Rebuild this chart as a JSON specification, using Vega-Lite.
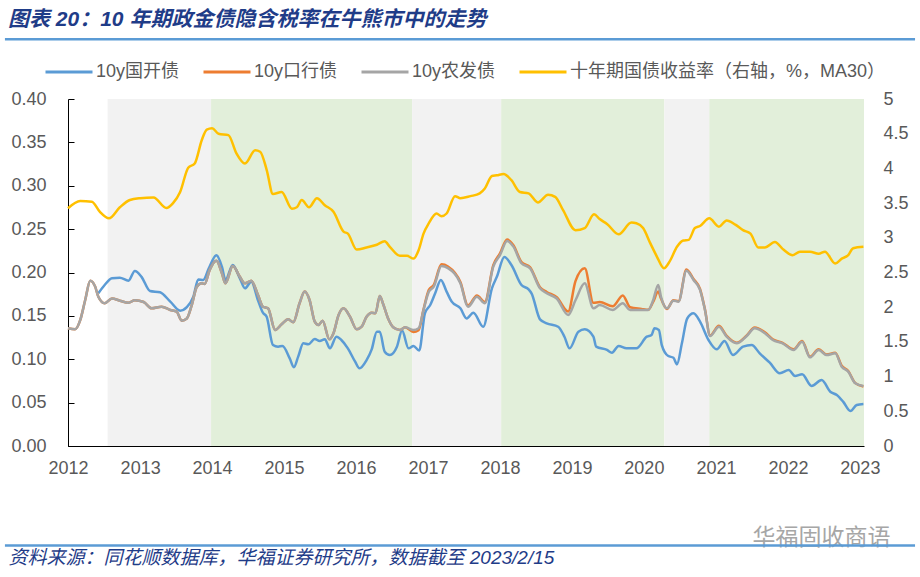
{
  "$schema": "https://vega.github.io/schema/vega-lite/v6.json",
  "background": "white",
  "width": 796,
  "height": 347,
  "autosize": {"type": "none"},
  "padding": {"left": 68, "right": 56, "top": 99, "bottom": 131},
  "config": {
    "font": "Liberation Sans, Noto Sans CJK SC",
    "view": {"stroke": null}
  },
  "title": {
    "text": "图表 20：10 年期政金债隐含税率在牛熊市中的走势",
    "anchor": "start", "frame": "group", "dx": -60, "offset": 8,
    "fontSize": 21, "fontWeight": "bold", "fontStyle": "italic",
    "color": "#1F3C88", "font": "Liberation Sans, Noto Sans CJK SC"
  },
  "datasets": {
    "phases": [
      {"start": "2012-07-20", "end": "2013-12-27", "phase": "熊市"},
      {"start": "2013-12-27", "end": "2016-10-12", "phase": "牛市"},
      {"start": "2016-10-12", "end": "2018-01-07", "phase": "熊市"},
      {"start": "2018-01-07", "end": "2020-04-14", "phase": "牛市"},
      {"start": "2020-04-14", "end": "2020-11-28", "phase": "熊市"},
      {"start": "2020-11-28", "end": "2023-01-22", "phase": "牛市"}
    ],
    "bonds": [
      {"d":"2012-06-03","s":"10y国开债","v":0.176},{"d":"2012-07-05","s":"10y国开债","v":0.1856},{"d":"2012-08-11","s":"10y国开债","v":0.1933},{"d":"2012-09-20","s":"10y国开债","v":0.194},{"d":"2012-11-03","s":"10y国开债","v":0.1906},{"d":"2012-12-05","s":"10y国开债","v":0.2017},{"d":"2013-01-08","s":"10y国开债","v":0.195},{"d":"2013-02-20","s":"10y国开债","v":0.1787},{"d":"2013-04-12","s":"10y国开债","v":0.1772},{"d":"2013-06-03","s":"10y国开债","v":0.1664},{"d":"2013-07-23","s":"10y国开债","v":0.156},{"d":"2013-08-26","s":"10y国开债","v":0.160},{"d":"2013-09-28","s":"10y国开债","v":0.172},{"d":"2013-10-23","s":"10y国开债","v":0.192},{"d":"2013-11-17","s":"10y国开债","v":0.1914},{"d":"2013-12-16","s":"10y国开债","v":0.205},{"d":"2014-01-23","s":"10y国开债","v":0.220},{"d":"2014-02-20","s":"10y国开债","v":0.2067},{"d":"2014-03-10","s":"10y国开债","v":0.1914},{"d":"2014-04-16","s":"10y国开债","v":0.2087},{"d":"2014-05-22","s":"10y国开债","v":0.1933},{"d":"2014-06-17","s":"10y国开债","v":0.1818},{"d":"2014-07-19","s":"10y国开债","v":0.1894},{"d":"2014-08-22","s":"10y国开债","v":0.168},{"d":"2014-09-16","s":"10y国开债","v":0.1537},{"d":"2014-10-05","s":"10y国开债","v":0.149},{"d":"2014-11-06","s":"10y国开债","v":0.1164},{"d":"2014-12-02","s":"10y国开债","v":0.1145},{"d":"2014-12-24","s":"10y国开债","v":0.1153},{"d":"2015-01-30","s":"10y国开债","v":0.101},{"d":"2015-02-20","s":"10y国开债","v":0.0907},{"d":"2015-03-14","s":"10y国开债","v":0.103},{"d":"2015-04-09","s":"10y国开债","v":0.1184},{"d":"2015-05-04","s":"10y国开债","v":0.1172},{"d":"2015-06-06","s":"10y国开债","v":0.1233},{"d":"2015-07-01","s":"10y国开债","v":0.121},{"d":"2015-07-27","s":"10y国开债","v":0.123},{"d":"2015-08-22","s":"10y国开债","v":0.1126},{"d":"2015-09-24","s":"10y国开债","v":0.126},{"d":"2015-10-19","s":"10y国开债","v":0.1222},{"d":"2015-11-21","s":"10y国开债","v":0.1126},{"d":"2015-12-28","s":"10y国开债","v":0.0972},{"d":"2016-01-19","s":"10y国开债","v":0.0895},{"d":"2016-02-24","s":"10y国开债","v":0.099},{"d":"2016-03-21","s":"10y国开债","v":0.1114},{"d":"2016-04-16","s":"10y国开债","v":0.1318},{"d":"2016-05-01","s":"10y国开债","v":0.1318},{"d":"2016-05-26","s":"10y国开债","v":0.1087},{"d":"2016-06-21","s":"10y国开债","v":0.1049},{"d":"2016-07-27","s":"10y国开债","v":0.1145},{"d":"2016-08-22","s":"10y国开债","v":0.133},{"d":"2016-09-24","s":"10y国开债","v":0.1126},{"d":"2016-10-19","s":"10y国开债","v":0.1153},{"d":"2016-11-17","s":"10y国开债","v":0.110},{"d":"2016-12-16","s":"10y国开债","v":0.153},{"d":"2017-01-12","s":"10y国开债","v":0.1625},{"d":"2017-02-06","s":"10y国开债","v":0.176},{"d":"2017-03-07","s":"10y国开债","v":0.1914},{"d":"2017-04-05","s":"10y国开债","v":0.178},{"d":"2017-05-01","s":"10y国开债","v":0.1664},{"d":"2017-06-14","s":"10y国开债","v":0.1587},{"d":"2017-07-16","s":"10y国开债","v":0.147},{"d":"2017-08-19","s":"10y国开债","v":0.1537},{"d":"2017-10-08","s":"10y国开债","v":0.1375},{"d":"2017-11-21","s":"10y国开债","v":0.1818},{"d":"2017-12-16","s":"10y国开债","v":0.195},{"d":"2018-01-23","s":"10y国开债","v":0.218},{"d":"2018-02-28","s":"10y国开债","v":0.2087},{"d":"2018-04-20","s":"10y国开债","v":0.1856},{"d":"2018-05-26","s":"10y国开债","v":0.1806},{"d":"2018-06-10","s":"10y国开债","v":0.176},{"d":"2018-07-23","s":"10y国开债","v":0.146},{"d":"2018-08-26","s":"10y国开债","v":0.1414},{"d":"2018-10-23","s":"10y国开债","v":0.1375},{"d":"2018-11-24","s":"10y国开债","v":0.126},{"d":"2018-12-20","s":"10y国开债","v":0.1126},{"d":"2019-02-03","s":"10y国开债","v":0.1318},{"d":"2019-03-07","s":"10y国开债","v":0.1345},{"d":"2019-04-20","s":"10y国开债","v":0.126},{"d":"2019-05-04","s":"10y国开债","v":0.1145},{"d":"2019-06-28","s":"10y国开债","v":0.1107},{"d":"2019-07-23","s":"10y国开债","v":0.1076},{"d":"2019-08-26","s":"10y国开债","v":0.1153},{"d":"2019-10-05","s":"10y国开债","v":0.1126},{"d":"2019-11-24","s":"10y国开债","v":0.1126},{"d":"2020-01-16","s":"10y国开债","v":0.126},{"d":"2020-02-09","s":"10y国开债","v":0.128},{"d":"2020-02-24","s":"10y国开债","v":0.1357},{"d":"2020-03-17","s":"10y国开债","v":0.1337},{"d":"2020-04-01","s":"10y国开债","v":0.1164},{"d":"2020-05-04","s":"10y国开债","v":0.1037},{"d":"2020-05-30","s":"10y国开债","v":0.1018},{"d":"2020-06-17","s":"10y国开债","v":0.0942},{"d":"2020-07-12","s":"10y国开债","v":0.1184},{"d":"2020-08-08","s":"10y国开债","v":0.147},{"d":"2020-09-09","s":"10y国开债","v":0.153},{"d":"2020-10-12","s":"10y国开债","v":0.1433},{"d":"2020-11-24","s":"10y国开债","v":0.1222},{"d":"2021-01-05","s":"10y国开债","v":0.1114},{"d":"2021-02-13","s":"10y国开债","v":0.121},{"d":"2021-03-28","s":"10y国开债","v":0.1049},{"d":"2021-05-18","s":"10y国开债","v":0.1145},{"d":"2021-07-01","s":"10y国开债","v":0.1164},{"d":"2021-08-11","s":"10y国开债","v":0.1068},{"d":"2021-10-01","s":"10y国开债","v":0.096},{"d":"2021-11-21","s":"10y国开债","v":0.0838},{"d":"2022-01-05","s":"10y国开债","v":0.0876},{"d":"2022-02-06","s":"10y国开债","v":0.0807},{"d":"2022-03-14","s":"10y国开债","v":0.0826},{"d":"2022-05-01","s":"10y国开债","v":0.0692},{"d":"2022-06-21","s":"10y国开债","v":0.0761},{"d":"2022-08-04","s":"10y国开债","v":0.0626},{"d":"2022-09-06","s":"10y国开债","v":0.0588},{"d":"2022-10-08","s":"10y国开债","v":0.0511},{"d":"2022-11-14","s":"10y国开债","v":0.0403},{"d":"2022-12-16","s":"10y国开债","v":0.0473},{"d":"2023-01-19","s":"10y国开债","v":0.0484},

      {"d":"2012-01-01","s":"10y口行债","v":0.1357},{"d":"2012-02-06","s":"10y口行债","v":0.1345},{"d":"2012-03-03","s":"10y口行债","v":0.145},{"d":"2012-03-28","s":"10y口行债","v":0.168},{"d":"2012-04-23","s":"10y口行债","v":0.1906},{"d":"2012-05-18","s":"10y口行债","v":0.1837},{"d":"2012-06-03","s":"10y口行债","v":0.172},{"d":"2012-07-05","s":"10y口行债","v":0.1645},{"d":"2012-08-11","s":"10y口行债","v":0.170},{"d":"2012-09-20","s":"10y口行债","v":0.1675},{"d":"2012-11-03","s":"10y口行债","v":0.165},{"d":"2012-12-05","s":"10y口行债","v":0.168},{"d":"2013-01-19","s":"10y口行债","v":0.166},{"d":"2013-02-28","s":"10y口行债","v":0.1587},{"d":"2013-04-20","s":"10y口行债","v":0.1606},{"d":"2013-06-03","s":"10y口行债","v":0.1568},{"d":"2013-07-05","s":"10y口行债","v":0.155},{"d":"2013-07-31","s":"10y口行债","v":0.1445},{"d":"2013-08-26","s":"10y口行债","v":0.147},{"d":"2013-09-20","s":"10y口行债","v":0.1625},{"d":"2013-10-16","s":"10y口行债","v":0.1837},{"d":"2013-11-10","s":"10y口行债","v":0.1875},{"d":"2013-11-24","s":"10y口行债","v":0.1867},{"d":"2013-12-20","s":"10y口行债","v":0.203},{"d":"2014-01-23","s":"10y口行债","v":0.2136},{"d":"2014-02-20","s":"10y口行债","v":0.199},{"d":"2014-03-10","s":"10y口行债","v":0.1875},{"d":"2014-04-16","s":"10y口行债","v":0.2075},{"d":"2014-05-22","s":"10y口行债","v":0.195},{"d":"2014-06-17","s":"10y口行债","v":0.1875},{"d":"2014-07-19","s":"10y口行债","v":0.1906},{"d":"2014-08-22","s":"10y口行债","v":0.174},{"d":"2014-09-16","s":"10y口行债","v":0.1606},{"d":"2014-10-12","s":"10y口行债","v":0.1587},{"d":"2014-11-17","s":"10y口行债","v":0.1337},{"d":"2014-12-20","s":"10y口行债","v":0.1403},{"d":"2015-01-23","s":"10y口行债","v":0.146},{"d":"2015-02-17","s":"10y口行债","v":0.1426},{"d":"2015-03-21","s":"10y口行债","v":0.1645},{"d":"2015-04-16","s":"10y口行债","v":0.178},{"d":"2015-05-11","s":"10y口行债","v":0.168},{"d":"2015-06-06","s":"10y口行债","v":0.1433},{"d":"2015-06-25","s":"10y口行债","v":0.1395},{"d":"2015-07-16","s":"10y口行债","v":0.1445},{"d":"2015-08-19","s":"10y口行债","v":0.123},{"d":"2015-09-09","s":"10y口行债","v":0.130},{"d":"2015-10-05","s":"10y口行债","v":0.151},{"d":"2015-10-30","s":"10y口行债","v":0.1587},{"d":"2015-12-02","s":"10y口行债","v":0.149},{"d":"2016-01-05","s":"10y口行债","v":0.1345},{"d":"2016-01-30","s":"10y口行债","v":0.1375},{"d":"2016-02-24","s":"10y口行债","v":0.149},{"d":"2016-03-21","s":"10y口行债","v":0.1537},{"d":"2016-04-09","s":"10y口行债","v":0.153},{"d":"2016-05-01","s":"10y口行债","v":0.173},{"d":"2016-05-18","s":"10y口行债","v":0.1637},{"d":"2016-06-14","s":"10y口行债","v":0.146},{"d":"2016-07-08","s":"10y口行债","v":0.1368},{"d":"2016-08-11","s":"10y口行债","v":0.1337},{"d":"2016-09-06","s":"10y口行债","v":0.1368},{"d":"2016-10-19","s":"10y口行债","v":0.1315},{"d":"2016-11-14","s":"10y口行债","v":0.1335},{"d":"2016-12-09","s":"10y口行债","v":0.1575},{"d":"2017-01-05","s":"10y口行债","v":0.180},{"d":"2017-01-30","s":"10y口行债","v":0.1857},{"d":"2017-03-10","s":"10y口行债","v":0.2095},{"d":"2017-04-12","s":"10y口行债","v":0.207},{"d":"2017-06-14","s":"10y口行债","v":0.189},{"d":"2017-07-23","s":"10y口行债","v":0.162},{"d":"2017-09-06","s":"10y口行债","v":0.1735},{"d":"2017-10-16","s":"10y口行债","v":0.166},{"d":"2017-11-28","s":"10y口行债","v":0.2085},{"d":"2018-01-01","s":"10y口行债","v":0.222},{"d":"2018-02-06","s":"10y口行债","v":0.238},{"d":"2018-03-10","s":"10y口行债","v":0.2315},{"d":"2018-04-20","s":"10y口行债","v":0.212},{"d":"2018-06-03","s":"10y口行债","v":0.206},{"d":"2018-07-23","s":"10y口行债","v":0.183},{"d":"2018-08-26","s":"10y口行债","v":0.1775},{"d":"2018-10-16","s":"10y口行债","v":0.1715},{"d":"2018-12-13","s":"10y口行债","v":0.155},{"d":"2019-01-19","s":"10y口行债","v":0.190},{"d":"2019-03-07","s":"10y口行债","v":0.2048},{"d":"2019-04-20","s":"10y口行债","v":0.165},{"d":"2019-05-22","s":"10y口行债","v":0.166},{"d":"2019-07-27","s":"10y口行债","v":0.161},{"d":"2019-09-16","s":"10y口行债","v":0.1735},{"d":"2019-10-23","s":"10y口行债","v":0.160},{"d":"2019-12-20","s":"10y口行债","v":0.158},{"d":"2020-01-23","s":"10y口行债","v":0.157},{"d":"2020-02-17","s":"10y口行债","v":0.166},{"d":"2020-03-14","s":"10y口行债","v":0.178},{"d":"2020-03-28","s":"10y口行债","v":0.170},{"d":"2020-04-27","s":"10y口行债","v":0.158},{"d":"2020-05-30","s":"10y口行债","v":0.168},{"d":"2020-06-25","s":"10y口行债","v":0.167},{"d":"2020-08-04","s":"10y口行债","v":0.2035},{"d":"2020-09-09","s":"10y口行债","v":0.1925},{"d":"2020-10-12","s":"10y口行债","v":0.181},{"d":"2020-11-06","s":"10y口行债","v":0.1575},{"d":"2020-12-02","s":"10y口行债","v":0.1275},{"d":"2021-01-16","s":"10y口行债","v":0.1385},{"d":"2021-02-24","s":"10y口行债","v":0.127},{"d":"2021-04-16","s":"10y口行债","v":0.119},{"d":"2021-06-06","s":"10y口行债","v":0.1275},{"d":"2021-07-16","s":"10y口行债","v":0.1365},{"d":"2021-09-06","s":"10y口行债","v":0.131},{"d":"2021-10-16","s":"10y口行债","v":0.123},{"d":"2021-12-05","s":"10y口行债","v":0.119},{"d":"2022-01-30","s":"10y口行债","v":0.1115},{"d":"2022-03-14","s":"10y口行债","v":0.121},{"d":"2022-04-23","s":"10y口行债","v":0.103},{"d":"2022-06-06","s":"10y口行债","v":0.1115},{"d":"2022-07-16","s":"10y口行债","v":0.1055},{"d":"2022-08-29","s":"10y口行债","v":0.1075},{"d":"2022-10-01","s":"10y口行债","v":0.0925},{"d":"2022-11-03","s":"10y口行债","v":0.0865},{"d":"2022-12-09","s":"10y口行债","v":0.0725},{"d":"2023-01-19","s":"10y口行债","v":0.0685},

      {"d":"2012-01-01","s":"10y农发债","v":0.1357},{"d":"2012-02-06","s":"10y农发债","v":0.1345},{"d":"2012-03-03","s":"10y农发债","v":0.145},{"d":"2012-03-28","s":"10y农发债","v":0.168},{"d":"2012-04-23","s":"10y农发债","v":0.1906},{"d":"2012-05-18","s":"10y农发债","v":0.1837},{"d":"2012-06-03","s":"10y农发债","v":0.172},{"d":"2012-07-05","s":"10y农发债","v":0.1645},{"d":"2012-08-11","s":"10y农发债","v":0.170},{"d":"2012-09-20","s":"10y农发债","v":0.1675},{"d":"2012-11-03","s":"10y农发债","v":0.165},{"d":"2012-12-05","s":"10y农发债","v":0.168},{"d":"2013-01-19","s":"10y农发债","v":0.166},{"d":"2013-02-28","s":"10y农发债","v":0.1587},{"d":"2013-04-20","s":"10y农发债","v":0.1606},{"d":"2013-06-03","s":"10y农发债","v":0.1568},{"d":"2013-07-05","s":"10y农发债","v":0.155},{"d":"2013-07-31","s":"10y农发债","v":0.1445},{"d":"2013-08-26","s":"10y农发债","v":0.147},{"d":"2013-09-20","s":"10y农发债","v":0.1625},{"d":"2013-10-16","s":"10y农发债","v":0.1837},{"d":"2013-11-10","s":"10y农发债","v":0.1875},{"d":"2013-11-24","s":"10y农发债","v":0.1867},{"d":"2013-12-20","s":"10y农发债","v":0.203},{"d":"2014-01-23","s":"10y农发债","v":0.2136},{"d":"2014-02-20","s":"10y农发债","v":0.199},{"d":"2014-03-10","s":"10y农发债","v":0.1875},{"d":"2014-04-16","s":"10y农发债","v":0.2075},{"d":"2014-05-22","s":"10y农发债","v":0.195},{"d":"2014-06-17","s":"10y农发债","v":0.1875},{"d":"2014-07-19","s":"10y农发债","v":0.1906},{"d":"2014-08-22","s":"10y农发债","v":0.174},{"d":"2014-09-16","s":"10y农发债","v":0.1606},{"d":"2014-10-12","s":"10y农发债","v":0.1587},{"d":"2014-11-17","s":"10y农发债","v":0.1337},{"d":"2014-12-20","s":"10y农发债","v":0.1403},{"d":"2015-01-23","s":"10y农发债","v":0.146},{"d":"2015-02-17","s":"10y农发债","v":0.1426},{"d":"2015-03-21","s":"10y农发债","v":0.1645},{"d":"2015-04-16","s":"10y农发债","v":0.178},{"d":"2015-05-11","s":"10y农发债","v":0.168},{"d":"2015-06-06","s":"10y农发债","v":0.1433},{"d":"2015-06-25","s":"10y农发债","v":0.1395},{"d":"2015-07-16","s":"10y农发债","v":0.1445},{"d":"2015-08-19","s":"10y农发债","v":0.123},{"d":"2015-09-09","s":"10y农发债","v":0.130},{"d":"2015-10-05","s":"10y农发债","v":0.151},{"d":"2015-10-30","s":"10y农发债","v":0.1587},{"d":"2015-12-02","s":"10y农发债","v":0.149},{"d":"2016-01-05","s":"10y农发债","v":0.1345},{"d":"2016-01-30","s":"10y农发债","v":0.1375},{"d":"2016-02-24","s":"10y农发债","v":0.149},{"d":"2016-03-21","s":"10y农发债","v":0.1537},{"d":"2016-04-09","s":"10y农发债","v":0.153},{"d":"2016-05-01","s":"10y农发债","v":0.173},{"d":"2016-05-18","s":"10y农发债","v":0.1637},{"d":"2016-06-14","s":"10y农发债","v":0.146},{"d":"2016-07-08","s":"10y农发债","v":0.1368},{"d":"2016-08-11","s":"10y农发债","v":0.1337},{"d":"2016-09-06","s":"10y农发债","v":0.1368},{"d":"2016-10-19","s":"10y农发债","v":0.1337},{"d":"2016-11-14","s":"10y农发债","v":0.1357},{"d":"2016-12-09","s":"10y农发债","v":0.1568},{"d":"2017-01-05","s":"10y农发债","v":0.178},{"d":"2017-01-30","s":"10y农发债","v":0.1837},{"d":"2017-03-10","s":"10y农发债","v":0.2075},{"d":"2017-04-12","s":"10y农发债","v":0.205},{"d":"2017-06-14","s":"10y农发债","v":0.1875},{"d":"2017-07-23","s":"10y农发债","v":0.1606},{"d":"2017-09-06","s":"10y农发债","v":0.172},{"d":"2017-10-16","s":"10y农发债","v":0.1645},{"d":"2017-11-28","s":"10y农发债","v":0.2067},{"d":"2018-01-01","s":"10y农发债","v":0.220},{"d":"2018-02-06","s":"10y农发债","v":0.2363},{"d":"2018-03-10","s":"10y农发债","v":0.2298},{"d":"2018-04-20","s":"10y农发债","v":0.2106},{"d":"2018-06-03","s":"10y农发债","v":0.2048},{"d":"2018-07-23","s":"10y农发债","v":0.1818},{"d":"2018-08-26","s":"10y农发债","v":0.176},{"d":"2018-10-16","s":"10y农发债","v":0.170},{"d":"2018-12-13","s":"10y农发债","v":0.151},{"d":"2019-01-19","s":"10y农发债","v":0.168},{"d":"2019-03-07","s":"10y农发债","v":0.1875},{"d":"2019-04-20","s":"10y农发债","v":0.1587},{"d":"2019-05-22","s":"10y农发债","v":0.1625},{"d":"2019-07-27","s":"10y农发债","v":0.1568},{"d":"2019-09-16","s":"10y农发债","v":0.1645},{"d":"2019-10-23","s":"10y农发债","v":0.1568},{"d":"2019-12-20","s":"10y农发债","v":0.1568},{"d":"2020-01-23","s":"10y农发债","v":0.1568},{"d":"2020-02-17","s":"10y农发债","v":0.168},{"d":"2020-03-14","s":"10y农发债","v":0.1856},{"d":"2020-03-28","s":"10y农发债","v":0.172},{"d":"2020-04-27","s":"10y农发债","v":0.1587},{"d":"2020-05-30","s":"10y农发债","v":0.1675},{"d":"2020-06-25","s":"10y农发债","v":0.1664},{"d":"2020-08-04","s":"10y农发债","v":0.2021},{"d":"2020-09-09","s":"10y农发债","v":0.1914},{"d":"2020-10-12","s":"10y农发债","v":0.180},{"d":"2020-11-06","s":"10y农发债","v":0.1568},{"d":"2020-12-02","s":"10y农发债","v":0.1268},{"d":"2021-01-16","s":"10y农发债","v":0.1375},{"d":"2021-02-24","s":"10y农发债","v":0.126},{"d":"2021-04-16","s":"10y农发债","v":0.1184},{"d":"2021-06-06","s":"10y农发债","v":0.1268},{"d":"2021-07-16","s":"10y农发债","v":0.1357},{"d":"2021-09-06","s":"10y农发债","v":0.130},{"d":"2021-10-16","s":"10y农发债","v":0.1222},{"d":"2021-12-05","s":"10y农发债","v":0.1184},{"d":"2022-01-30","s":"10y农发债","v":0.1107},{"d":"2022-03-14","s":"10y农发债","v":0.1203},{"d":"2022-04-23","s":"10y农发债","v":0.1022},{"d":"2022-06-06","s":"10y农发债","v":0.1107},{"d":"2022-07-16","s":"10y农发债","v":0.1049},{"d":"2022-08-29","s":"10y农发债","v":0.1068},{"d":"2022-10-01","s":"10y农发债","v":0.0914},{"d":"2022-11-03","s":"10y农发债","v":0.0857},{"d":"2022-12-09","s":"10y农发债","v":0.0723},{"d":"2023-01-19","s":"10y农发债","v":0.0692}
    ],
    "gz": [
      {"d":"2012-01-01","r":3.425},{"d":"2012-03-03","r":3.53},{"d":"2012-05-01","r":3.52},{"d":"2012-06-10","r":3.376},{"d":"2012-07-27","r":3.28},{"d":"2012-09-20","r":3.44},{"d":"2012-11-10","r":3.545},{"d":"2013-01-01","r":3.57},{"d":"2013-03-10","r":3.58},{"d":"2013-05-14","r":3.43},{"d":"2013-06-17","r":3.50},{"d":"2013-07-23","r":3.66},{"d":"2013-09-02","r":4.01},{"d":"2013-10-05","r":4.07},{"d":"2013-11-10","r":4.41},{"d":"2013-12-05","r":4.56},{"d":"2014-01-01","r":4.58},{"d":"2014-02-03","r":4.50},{"d":"2014-03-25","r":4.48},{"d":"2014-05-04","r":4.22},{"d":"2014-06-17","r":4.07},{"d":"2014-08-08","r":4.26},{"d":"2014-09-02","r":4.24},{"d":"2014-10-05","r":3.98},{"d":"2014-11-06","r":3.63},{"d":"2014-12-20","r":3.66},{"d":"2015-02-10","r":3.42},{"d":"2015-03-07","r":3.44},{"d":"2015-04-01","r":3.545},{"d":"2015-05-08","r":3.44},{"d":"2015-06-17","r":3.57},{"d":"2015-07-27","r":3.47},{"d":"2015-09-09","r":3.376},{"d":"2015-10-30","r":3.09},{"d":"2015-11-21","r":3.06},{"d":"2016-01-05","r":2.83},{"d":"2016-02-24","r":2.86},{"d":"2016-04-16","r":2.90},{"d":"2016-05-26","r":2.95},{"d":"2016-06-21","r":2.87},{"d":"2016-08-11","r":2.74},{"d":"2016-09-16","r":2.74},{"d":"2016-10-19","r":2.70},{"d":"2016-11-14","r":2.82},{"d":"2016-12-09","r":3.06},{"d":"2017-01-05","r":3.21},{"d":"2017-02-13","r":3.35},{"d":"2017-03-10","r":3.31},{"d":"2017-04-05","r":3.35},{"d":"2017-05-18","r":3.60},{"d":"2017-06-14","r":3.57},{"d":"2017-08-04","r":3.60},{"d":"2017-09-20","r":3.64},{"d":"2017-10-16","r":3.71},{"d":"2017-11-21","r":3.89},{"d":"2017-12-16","r":3.90},{"d":"2018-01-19","r":3.92},{"d":"2018-02-28","r":3.83},{"d":"2018-04-12","r":3.66},{"d":"2018-05-26","r":3.64},{"d":"2018-07-12","r":3.51},{"d":"2018-09-02","r":3.62},{"d":"2018-10-08","r":3.59},{"d":"2018-11-17","r":3.40},{"d":"2019-01-19","r":3.11},{"d":"2019-03-07","r":3.14},{"d":"2019-04-23","r":3.34},{"d":"2019-05-22","r":3.27},{"d":"2019-06-28","r":3.20},{"d":"2019-08-26","r":3.05},{"d":"2019-10-30","r":3.22},{"d":"2019-11-24","r":3.21},{"d":"2019-12-28","r":3.14},{"d":"2020-02-03","r":2.92},{"d":"2020-03-07","r":2.73},{"d":"2020-04-12","r":2.56},{"d":"2020-05-11","r":2.66},{"d":"2020-06-17","r":2.87},{"d":"2020-07-19","r":2.96},{"d":"2020-08-15","r":2.97},{"d":"2020-09-16","r":3.14},{"d":"2020-10-12","r":3.17},{"d":"2020-11-28","r":3.28},{"d":"2021-01-16","r":3.16},{"d":"2021-02-24","r":3.25},{"d":"2021-04-09","r":3.19},{"d":"2021-05-18","r":3.11},{"d":"2021-06-25","r":3.06},{"d":"2021-08-04","r":2.86},{"d":"2021-09-06","r":2.86},{"d":"2021-10-27","r":2.94},{"d":"2021-12-09","r":2.83},{"d":"2022-01-23","r":2.75},{"d":"2022-03-03","r":2.80},{"d":"2022-04-23","r":2.80},{"d":"2022-06-06","r":2.77},{"d":"2022-07-08","r":2.80},{"d":"2022-08-29","r":2.63},{"d":"2022-10-01","r":2.70},{"d":"2022-11-03","r":2.75},{"d":"2022-11-28","r":2.85},{"d":"2023-01-19","r":2.87}
    ]
  },
  "layer": [
    {
      "data": {"name": "phases"},
      "mark": {"type": "rect"},
      "encoding": {
        "x": {
          "field": "start", "type": "temporal", "title": "资料来源：同花顺数据库，华福证券研究所，数据截至 2023/2/15",
          "scale": {"domain": [{"year": 2012, "month": 1, "date": 1}, {"year": 2023, "month": 1, "date": 22}]},
          "axis": {
            "values": [{"year": 2012}, {"year": 2013}, {"year": 2014}, {"year": 2015}, {"year": 2016}, {"year": 2017}, {"year": 2018}, {"year": 2019}, {"year": 2020}, {"year": 2021}, {"year": 2022}, {"year": 2023}],
            "format": "%Y", "labelFontSize": 18, "labelColor": "#595959", "labelFont": "Liberation Sans",
            "domainColor": "#000000", "tickColor": "#000000", "tickSize": -6, "labelPadding": 19,
            "grid": false, "labelOverlap": false, "labelFlush": false,
            "titleX": -60, "titleY": 111, "titleAlign": "left", "titleBaseline": "middle", "titleAnchor": "start",
            "titleFontSize": 19, "titleColor": "#1F3C88", "titleFontWeight": "normal", "titleFontStyle": "italic",
            "titleFont": "Liberation Sans, Noto Sans CJK SC"
          }
        },
        "x2": {"field": "end"},
        "fill": {
          "field": "phase", "type": "nominal",
          "scale": {"domain": ["熊市", "牛市"], "range": ["#F2F2F2", "#E2EFDA"]},
          "legend": null
        }
      }
    },
    {
      "data": {"values": [{}]},
      "mark": {"type": "rule", "color": "#5B9BD5", "strokeWidth": 2.5},
      "encoding": {
        "x": {"datum": {"year": 2011, "month": 2, "date": 15}, "type": "temporal"},
        "x2": {"datum": {"year": 2023, "month": 10, "date": 8}},
        "y": {"datum": 0.469, "type": "quantitative", "scale": {"domain": [0, 0.4], "nice": false}, "axis": null}
      }
    },
    {
      "data": {"values": [{}]},
      "mark": {"type": "rule", "color": "#5B9BD5", "strokeWidth": 2.5},
      "encoding": {
        "x": {"datum": {"year": 2011, "month": 2, "date": 15}, "type": "temporal"},
        "x2": {"datum": {"year": 2023, "month": 10, "date": 8}},
        "y": {"datum": -0.1147, "type": "quantitative", "scale": {"domain": [0, 0.4], "nice": false}, "axis": null}
      }
    },
    {
      "data": {"name": "bonds"},
      "mark": {"type": "line", "strokeWidth": 2.5, "interpolate": "monotone"},
      "encoding": {
        "x": {"field": "d", "type": "temporal", "title": "资料来源：同花顺数据库，华福证券研究所，数据截至 2023/2/15"},
        "y": {
          "field": "v", "type": "quantitative", "title": null,
          "scale": {"domain": [0, 0.4], "nice": false},
          "axis": {
            "orient": "left",
            "values": [0, 0.05, 0.1, 0.15, 0.2, 0.25, 0.3, 0.35, 0.4],
            "format": ".2f", "labelFontSize": 18, "labelColor": "#595959", "labelFont": "Liberation Sans",
            "domainColor": "#000000", "tickColor": "#000000", "tickSize": -6, "labelPadding": 28,
            "grid": false
          }
        },
        "color": {
          "field": "s", "type": "nominal",
          "scale": {
            "domain": ["10y国开债", "10y口行债", "10y农发债", "十年期国债收益率（右轴，%，MA30）"],
            "range": ["#5B9BD5", "#ED7D31", "#A5A5A5", "#FFC000"]
          },
          "legend": {
            "orient": "none", "legendX": -24, "legendY": -52, "padding": 0,
            "direction": "horizontal", "title": null,
            "symbolType": "stroke", "symbolSize": 2209, "symbolStrokeWidth": 3,
            "labelFontSize": 18, "labelColor": "#595959", "labelLimit": 500,
            "columnPadding": 17, "labelOffset": 2
          }
        }
      }
    },
    {
      "data": {"name": "gz"},
      "mark": {"type": "line", "strokeWidth": 2.5, "interpolate": "monotone"},
      "encoding": {
        "x": {"field": "d", "type": "temporal", "title": "资料来源：同花顺数据库，华福证券研究所，数据截至 2023/2/15"},
        "y": {
          "field": "r", "type": "quantitative", "title": "华福固收商语",
          "scale": {"domain": [0, 5], "nice": false},
          "axis": {
            "orient": "right",
            "values": [0, 0.5, 1, 1.5, 2, 2.5, 3, 3.5, 4, 4.5, 5],
            "format": "~g", "labelFontSize": 18, "labelColor": "#595959", "labelFont": "Liberation Sans",
            "domain": false, "ticks": false, "labelPadding": 19, "grid": false,
            "titleAngle": 0, "titleX": 26, "titleY": 438, "titleAlign": "right", "titleBaseline": "middle",
            "titleFontSize": 23, "titleColor": "#A6A6A6", "titleFontWeight": "normal", "titleFont": "Noto Sans CJK SC"
          }
        },
        "color": {"datum": "十年期国债收益率（右轴，%，MA30）", "type": "nominal"}
      }
    }
  ],
  "resolve": {"scale": {"y": "independent"}}
}
